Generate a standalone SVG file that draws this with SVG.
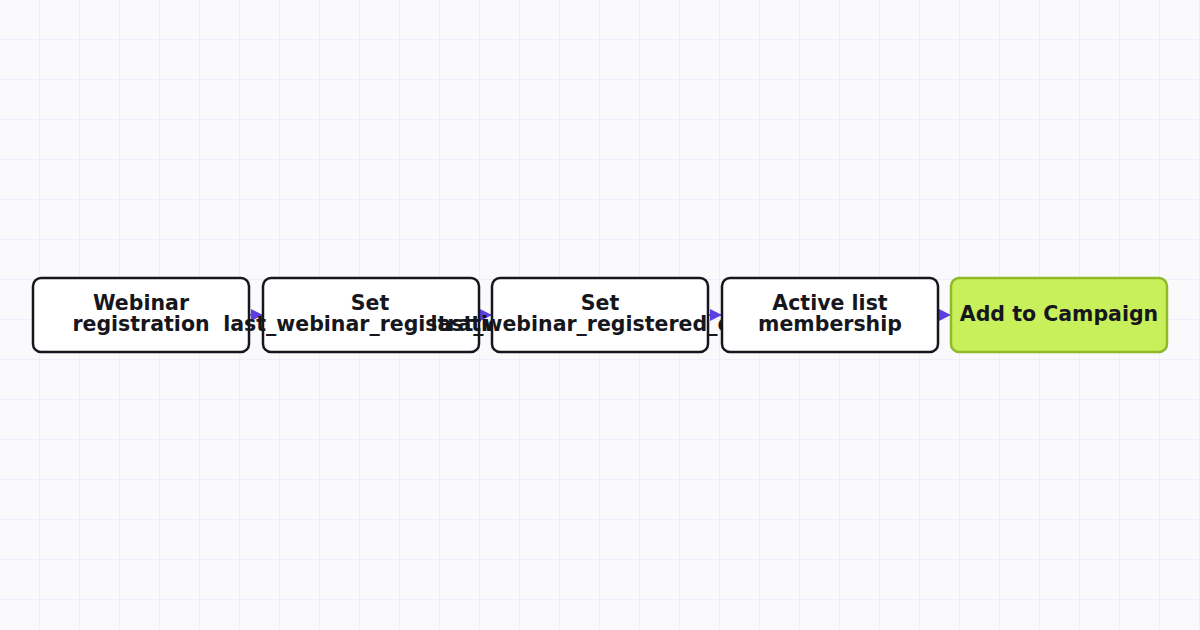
<svg xmlns="http://www.w3.org/2000/svg" width="1200" height="630" viewBox="0 0 1200 630">
<defs>
<pattern id="grid" width="40" height="40" patternUnits="userSpaceOnUse"><path d="M40 0V40M0 40H40" fill="none" stroke="#e6e2f8" stroke-width="1"/></pattern>
<marker id="arr" viewBox="0 0 10 10" refX="10" refY="5" markerWidth="12" markerHeight="12" markerUnits="userSpaceOnUse" orient="auto"><path d="M0 0L10 5L0 10z" fill="#5b3fe0"/></marker>
</defs>
<style>
.box{fill:#fff;stroke:#16161d;stroke-width:2.5}
.green{fill:#c8f05a;stroke:#8fb82a}
text{font-family:"DejaVu Sans",Inter,sans-serif;font-weight:700;font-size:20.5px;fill:#16161d;text-anchor:middle}
.c{stroke:#5b3fe0;stroke-width:1.5;fill:none;marker-end:url(#arr)}
</style>
<rect width="1200" height="630" fill="#fafafd"/>
<rect width="1200" height="630" fill="url(#grid)"/>
<g id="connectors">
<path class="c" d="M249 315H263"/>
<path class="c" d="M479 315H492"/>
<path class="c" d="M708 315H722"/>
<path class="c" d="M938 315H951"/>
</g>
<g id="n1"><rect class="box" x="33" y="278" width="216" height="74" rx="8"/><text x="141" y="310">Webinar</text><text x="141" y="331">registration</text></g>
<g id="n2"><rect class="box" x="263" y="278" width="216" height="74" rx="8"/><text x="370" y="310">Set</text><text x="370" y="331">last_webinar_registration</text></g>
<g id="n3"><rect class="box" x="492" y="278" width="216" height="74" rx="8"/><text x="600" y="310">Set</text><text x="600" y="331">last_webinar_registered_date</text></g>
<g id="n4"><rect class="box" x="722" y="278" width="216" height="74" rx="8"/><text x="830" y="310">Active list</text><text x="830" y="331">membership</text></g>
<g id="n5"><rect class="box green" x="951" y="278" width="216" height="74" rx="8"/><text x="1059" y="321">Add to Campaign</text></g>
</svg>
